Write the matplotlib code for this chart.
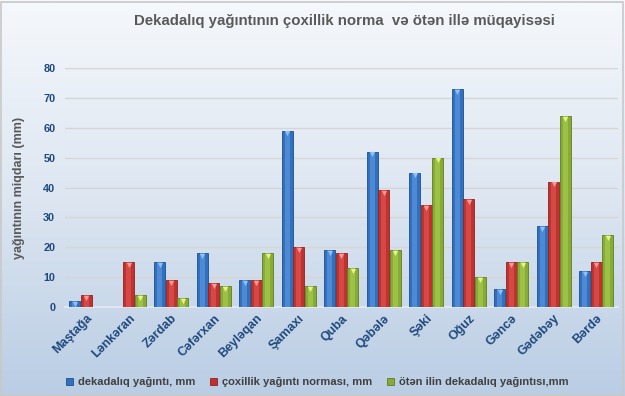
import numpy as np
import matplotlib
matplotlib.use("Agg")
import matplotlib.pyplot as plt
from matplotlib.patches import Rectangle
from matplotlib.colors import LinearSegmentedColormap

plt.rcParams['font.family'] = ['Liberation Sans', 'DejaVu Sans']

categories = ["Maştağa", "Lənkəran", "Zərdab", "Cəfərxan", "Beyləqan", "Şamaxı", "Quba",
              "Qəbələ", "Şəki", "Oğuz", "Gəncə", "Gədəbəy", "Bərdə"]
dekadaliq = [2, 0, 15, 18, 9, 59, 19, 52, 45, 73, 6, 27, 12]
coxillik = [4, 15, 9, 8, 9, 20, 18, 39, 34, 36, 15, 42, 15]
oten_il = [0, 4, 3, 7, 18, 7, 13, 19, 50, 10, 15, 64, 24]
series_names = ["dekadalıq yağıntı, mm", "çoxillik yağıntı norması, mm", "ötən ilin dekadalıq yağıntısı,mm"]
yticks = [0, 10, 20, 30, 40, 50, 60, 70, 80]

title = "Dekadalıq yağıntının çoxillik norma  və ötən illə müqayisəsi"
ylabel = "yağıntının miqdarı (mm)"

colors = ["#3170bd", "#c0322f", "#88ab36"]
edge = ["#1d4f8c", "#8e2220", "#5f7d22"]
light = ["#5a95de", "#dd5350", "#a6c94e"]
tipc = ["#8ec0f5", "#f59a98", "#e4f58a"]

fig = plt.figure(figsize=(6.25, 3.96), dpi=100)

# background gradient
bg = fig.add_axes([0, 0, 1, 1], zorder=-10)
grad = np.linspace(0, 1, 256).reshape(-1, 1)
cm = LinearSegmentedColormap.from_list("bg", ["#f5f8fc", "#dde6f1", "#b9cde4"])
bg.imshow(grad, aspect='auto', cmap=cm, extent=[0, 1, 0, 1], origin='upper')
bg.add_patch(Rectangle((0.002, 0.003), 0.995, 0.993, fill=False, edgecolor="#c8c8c8", lw=1.2,
                       transform=bg.transAxes))
bg.set_axis_off()

ax = fig.add_axes([0.104, 0.225, 0.884, 0.603])
ax.patch.set_alpha(0)
x = np.arange(len(categories))
w = 0.26
step = 0.275
data = [dekadaliq, coxillik, oten_il]
for i, vals in enumerate(data):
    pos = x + (i - 1) * step
    vals = np.array(vals, dtype=float)
    ax.bar(pos, vals, width=w, color=colors[i], edgecolor=edge[i], linewidth=0.6, zorder=3,
           label=series_names[i])
    ax.bar(pos, vals, width=w * 0.45, color=light[i], linewidth=0, zorder=4, alpha=0.7)
    m = vals > 0
    ax.scatter(pos[m], vals[m] - 0.9, marker='v', s=14, color=tipc[i], linewidths=0, zorder=5)

ax.set_xlim(-0.5, len(categories) - 0.5)
ax.set_ylim(0, 80)
ax.set_yticks(yticks)
ax.set_yticklabels([str(t) for t in yticks], fontsize=7.8, fontweight='bold', color="#1f497d")
ax.set_xticks(x)
ax.set_xticklabels(categories, rotation=45, ha='right', va='top', rotation_mode='anchor',
                   fontsize=9, fontweight='bold', color="#1f497d")
ax.tick_params(axis='both', length=0, pad=7)
ax.tick_params(axis='x', pad=4)
ax.yaxis.grid(True, color="#d6d6d6", lw=1, zorder=0)
ax.set_axisbelow(True)
for s in ["top", "right", "left"]:
    ax.spines[s].set_visible(False)
ax.spines["bottom"].set_color("#e4eaf2")
ax.spines["bottom"].set_linewidth(1.2)
ax.set_ylabel(ylabel, fontsize=9, fontweight='bold', color="#595959")
ax.yaxis.set_label_coords(-0.072, 0.5)

fig.text(0.551, 0.947, title, ha='center', va='center', fontsize=10.8, fontweight='bold',
         color="#595959")

leg = fig.legend(loc='center', bbox_to_anchor=(0.508, 0.035), ncol=3, frameon=False,
                 fontsize=8, handlelength=0.6, handleheight=0.6, handletextpad=0.5,
                 columnspacing=1.3)
for t in leg.get_texts():
    t.set_fontweight('bold')
    t.set_color("#404040")

fig.savefig("out.png", dpi=100)
